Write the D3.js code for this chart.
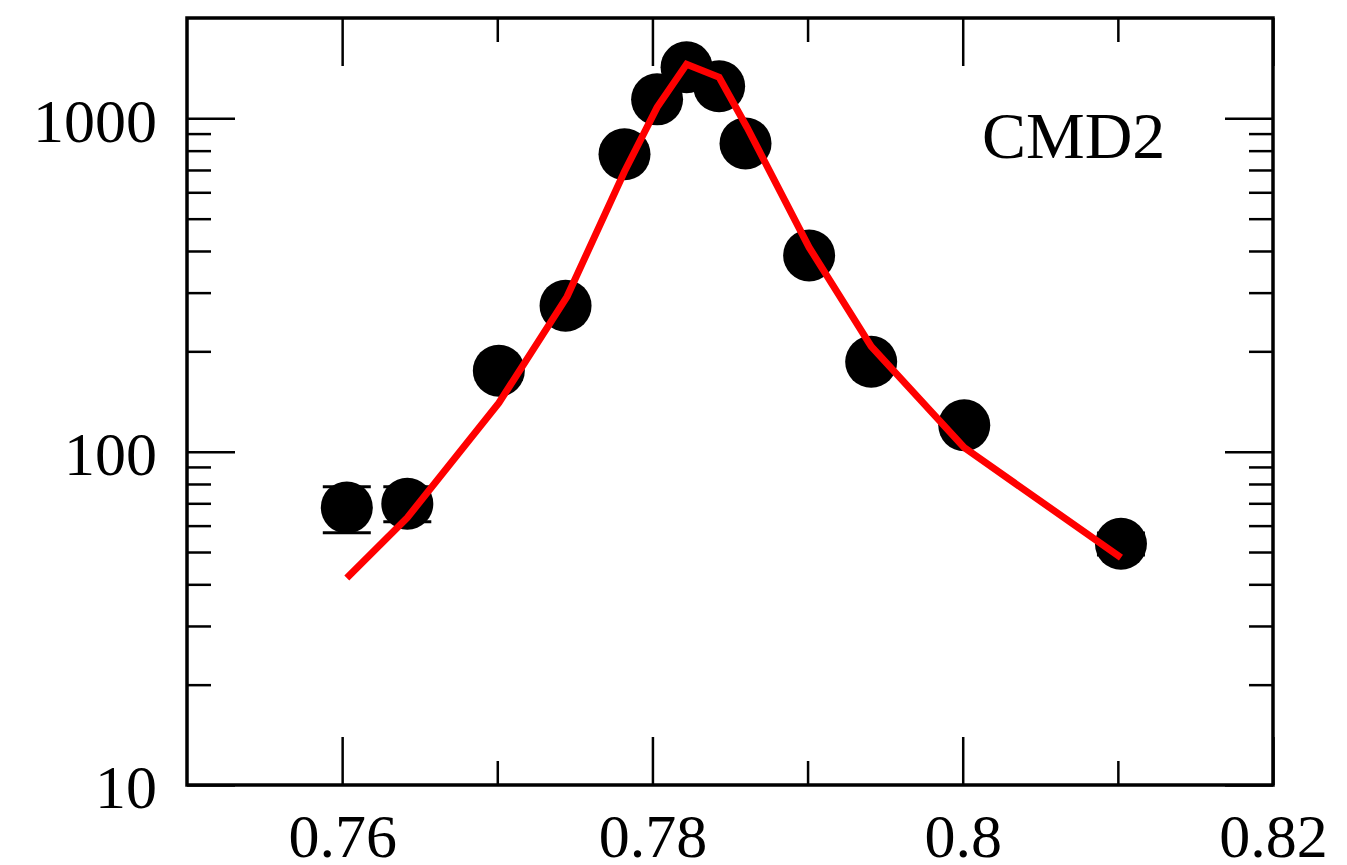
<!DOCTYPE html>
<html>
  <head>
    <meta charset="utf-8">
    <title>CMD2</title>
    <script src="https://d3js.org/d3.v7.min.js"></script>
    <style>
      body { margin: 0; background: #fff; }
      svg { display: block; }
      .tick text { font-family: "Liberation Serif", "Times New Roman", serif; font-size: 62px; fill: #000; }
      .domain { display: none; }
      .tick line { stroke: #000; stroke-width: 2.5px; }
    </style>
  </head>
  <body>
    <svg width="1347" height="865"></svg>
    <script>
      // measured points
      var energy = [0.7603, 0.7642, 0.7701, 0.7744, 0.7782, 0.7803, 0.7822, 0.7843, 0.7860, 0.7901, 0.7941, 0.8001, 0.8102];
      var events = [68, 69.8, 175, 274, 780, 1140, 1423, 1248, 841, 388, 186, 120, 52.9];
      var errLo  = [57.1, 61.6, 165, 262, 760, 1115, 1395, 1222, 822, 376, 178, 114, 49];
      var errHi  = [78.5, 78.5, 185, 286, 800, 1165, 1451, 1274, 860, 400, 194, 126, 57];
      // fit curve
      var fitE = [0.7603, 0.7642, 0.7701, 0.7745, 0.7782, 0.7803, 0.7822, 0.7843, 0.7861, 0.7901, 0.7941, 0.8001, 0.8102];
      var fitN = [41.8, 63.4, 140, 292, 693, 1079, 1452, 1328, 939, 410, 207, 102.8, 48.1];

      var xMajor = [0.76, 0.78, 0.8, 0.82];
      var xMinor = [0.77, 0.79, 0.81];
      var yMajor = [10, 100, 1000];
      var yMinor = [20, 30, 40, 50, 60, 70, 80, 90, 200, 300, 400, 500, 600, 700, 800, 900];
      var label = "CMD2";

      var plotLeft = 187, plotRight = 1273, plotTop = 18, plotBottom = 785;
      var svg = d3.select("svg");

      var x = d3.scaleLinear().domain([0.75, 0.82]).range([plotLeft, plotRight]);
      var y = d3.scaleLog().domain([10, 2000]).range([plotBottom, plotTop]);

      // axes, ticks pointing inward
      var xAxis = svg.append("g").attr("transform", "translate(0," + plotBottom + ")")
        .call(d3.axisBottom(x).tickValues(xMajor).tickSize(-48).tickPadding(72)
          .tickFormat(function(d) { return String(+d.toFixed(2)); }));
      xAxis.selectAll("text").attr("dy", null);
      svg.append("g").attr("transform", "translate(0," + plotBottom + ")")
        .call(d3.axisBottom(x).tickValues(xMinor).tickSize(-24).tickFormat(""));
      svg.append("g").attr("transform", "translate(0," + plotTop + ")")
        .call(d3.axisTop(x).tickValues(xMajor).tickSize(-48).tickFormat(""));
      svg.append("g").attr("transform", "translate(0," + plotTop + ")")
        .call(d3.axisTop(x).tickValues(xMinor).tickSize(-24).tickFormat(""));

      var yAxis = svg.append("g").attr("transform", "translate(" + plotLeft + ",0)")
        .call(d3.axisLeft(y).tickValues(yMajor).tickSize(-48).tickPadding(30).tickFormat(d3.format("d")));
      yAxis.selectAll("text").attr("dy", "0.37em");
      svg.append("g").attr("transform", "translate(" + plotLeft + ",0)")
        .call(d3.axisLeft(y).tickValues(yMinor).tickSize(-24).tickFormat(""));
      svg.append("g").attr("transform", "translate(" + plotRight + ",0)")
        .call(d3.axisRight(y).tickValues(yMajor).tickSize(-48).tickFormat(""));
      svg.append("g").attr("transform", "translate(" + plotRight + ",0)")
        .call(d3.axisRight(y).tickValues(yMinor).tickSize(-24).tickFormat(""));

      // frame
      svg.append("rect")
        .attr("x", plotLeft).attr("y", plotTop)
        .attr("width", plotRight - plotLeft).attr("height", plotBottom - plotTop)
        .attr("fill", "none").attr("stroke", "#000").attr("stroke-width", 3.5);

      var pts = energy.map(function(e, i) {
        return { e: e, n: events[i], lo: errLo[i], hi: errHi[i] };
      });

      // error bars
      var eb = svg.append("g").attr("stroke", "#000").attr("stroke-width", 3);
      eb.selectAll("line.v").data(pts).enter().append("line").attr("class", "v")
        .attr("x1", function(d) { return x(d.e); }).attr("x2", function(d) { return x(d.e); })
        .attr("y1", function(d) { return y(d.lo); }).attr("y2", function(d) { return y(d.hi); });
      eb.selectAll("line.lo").data(pts).enter().append("line").attr("class", "lo")
        .attr("x1", function(d) { return x(d.e) - 24; }).attr("x2", function(d) { return x(d.e) + 24; })
        .attr("y1", function(d) { return y(d.lo); }).attr("y2", function(d) { return y(d.lo); });
      eb.selectAll("line.hi").data(pts).enter().append("line").attr("class", "hi")
        .attr("x1", function(d) { return x(d.e) - 24; }).attr("x2", function(d) { return x(d.e) + 24; })
        .attr("y1", function(d) { return y(d.hi); }).attr("y2", function(d) { return y(d.hi); });

      svg.append("g").selectAll("circle").data(pts).enter().append("circle")
        .attr("cx", function(d) { return x(d.e); })
        .attr("cy", function(d) { return y(d.n); })
        .attr("r", 26)
        .attr("fill", "#000");

      var line = d3.line()
        .x(function(d, i) { return x(fitE[i]); })
        .y(function(d) { return y(d); });
      svg.append("path").datum(fitN)
        .attr("d", line)
        .attr("fill", "none")
        .attr("stroke", "#ff0000")
        .attr("stroke-width", 7);

      svg.append("text")
        .attr("x", 982).attr("y", 158)
        .attr("font-family", "Liberation Serif, Times New Roman, serif")
        .attr("font-size", 66)
        .text(label);
    </script>
  </body>
</html>
